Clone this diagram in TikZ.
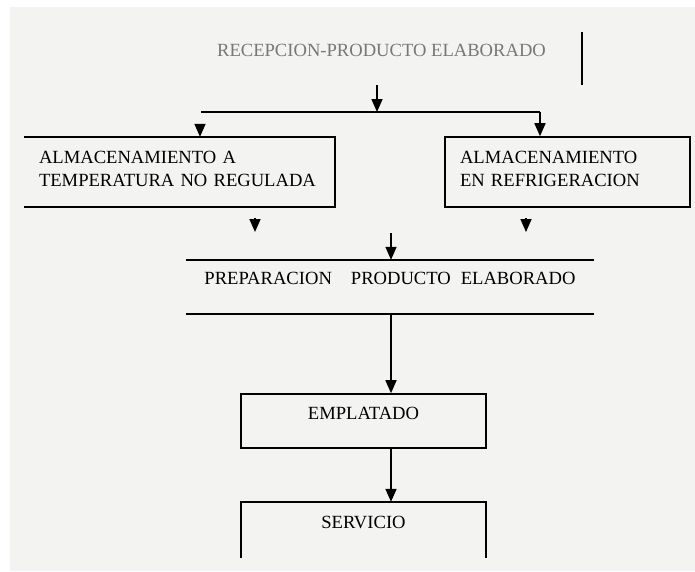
\documentclass[tikz,border=0pt]{standalone}
\usepackage{fontspec}
\setmainfont{Liberation Serif}
\usepackage{xcolor}
\definecolor{Col1}{RGB}{243,243,241}
\definecolor{Col2}{RGB}{120,120,120}
\usepackage{tikz}
\usetikzlibrary{arrows.meta}
\tikzstyle{Node}=[inner sep=0pt,font=\fontsize{18.6}{23}\selectfont]
\tikzstyle{Box}=[Node,anchor=base,inner xsep=15pt,align=left,
text height=26.2pt,text depth=43.8pt]
\tikzstyle{Edge}=[draw=black,line width=1.6pt]
\tikzstyle{Arrow}=[Edge,-{Triangle[width=11pt,length=13pt]}]

\begin{document}
\begin{tikzpicture}[x=1pt,y=-1pt]
            \useasboundingbox(0,0)rectangle(695,571);
            \fill[Col1](10,7)rectangle(695,571);
            \node[Node,text=Col2](0)at(381.5,50)
                {RECEPCION-PRODUCTO ELABORADO};
            \node[Box,text width=281pt](1)at(179.5,163.2)
                {ALMACENAMIENTO A\\TEMPERATURA NO REGULADA};
            \node[Box,text width=215pt,Edge](2)at(567.5,163.2)
                {ALMACENAMIENTO\\EN REFRIGERACION};
            \node[Node,anchor=base,minimum width=408pt,
                text height=24.2pt,text depth=29.8pt](3)at(390,284.2)
                {PREPARACION\hspace{19pt}PRODUCTO\hspace{10pt}ELABORADO};
            \node[Node,anchor=base,minimum width=245pt,Edge,
                text height=25.2pt,text depth=28.8pt](4)at(363.5,419.2)
                {EMPLATADO};
            \node[Node,anchor=base,minimum width=245pt,
                text height=26.2pt,text depth=29.8pt](5)at(363.5,528.2)
                {SERVICIO};
            \coordinate(b0)at(582,32);
            \coordinate(b1)at(582,85);
            \coordinate(a0)at(377,85);
            \coordinate(a1)at(377,112);
            \coordinate(l0)at(201,112);
            \coordinate(l1)at(540,112);
            \coordinate(t0)at(200,124);
            \coordinate(t1)at(255,218);
            \coordinate(t2)at(255,232);
            \coordinate(t3)at(526,218);
            \coordinate(t4)at(526,232);
            \coordinate(a2)at(391,233);
            \draw[Edge](b0)--(b1);
            \draw[Arrow](a0)--(a1);
            \draw[Edge](l0)--(l1);
            \draw[Arrow](l1)--(l1|-2.north);
            \draw[Arrow](t0)--(t0|-1.north);
            \draw[Edge](1.north west)--(1.north east)--(1.south east)
                --(1.south west);
            \draw[Arrow](t1)--(t2);
            \draw[Arrow](t3)--(t4);
            \draw[Arrow](a2)--(a2|-3.north);
            \draw[Edge](3.north west)--(3.north east);
            \draw[Edge](3.south west)--(3.south east);
            \draw[Arrow](a2|-3.south)--(a2|-4.north);
            \draw[Arrow](a2|-4.south)--(a2|-5.north);
            \draw[Edge](5.south west)--(5.north west)--(5.north east)
                --(5.south east);
        \end{tikzpicture}
\end{document}
